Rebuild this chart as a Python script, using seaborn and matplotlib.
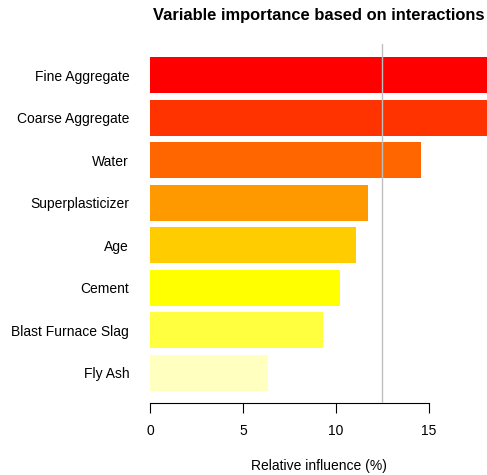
import pandas as pd
import matplotlib
matplotlib.use("Agg")
import matplotlib.pyplot as plt
import seaborn as sns

# Data (relative influence, %)
variables = ["Fine Aggregate", "Coarse Aggregate", "Water", "Superplasticizer",
             "Age", "Cement", "Blast Furnace Slag", "Fly Ash"]
influence = [18.6, 18.2, 14.57, 11.7, 11.08, 10.2, 9.3, 6.34]
# R heat.colors(8)
bar_colors = ["#FF0000", "#FF3300", "#FF6600", "#FF9900",
              "#FFCC00", "#FFFF00", "#FFFF40", "#FFFFBF"]
x_ticks = [0, 5, 10, 15]
reference_line = 12.5

df = pd.DataFrame({"variable": variables, "influence": influence})

sns.set_style("white")
plt.rcParams["font.family"] = ["Liberation Sans", "DejaVu Sans"]
plt.rcParams["text.color"] = "black"
plt.rcParams["xtick.color"] = "black"
plt.rcParams["ytick.color"] = "black"
plt.rcParams["axes.labelcolor"] = "black"

fig = plt.figure(figsize=(4.87, 4.75), dpi=100)
ax = fig.add_axes([150 / 487, 72 / 475, 337 / 487, 359 / 475])

sns.barplot(data=df, x="influence", y="variable", hue="variable",
            order=variables, palette=dict(zip(variables, bar_colors)),
            saturation=1, legend=False, width=0.847, linewidth=0, ax=ax)

ax.axvline(reference_line, color="#BEBEBE", lw=1, zorder=5)

ax.set_xlim(0, 18.12)
ax.set_ylim(7.71, -0.74)
ax.set_xticks(x_ticks)
ax.set_xticklabels([str(t) for t in x_ticks], fontsize=10)
ax.tick_params(axis="x", length=7, width=0.8, color="black", pad=8, bottom=True)
ax.tick_params(axis="y", length=0, pad=15, labelsize=10)

for s in ["top", "right", "left"]:
    ax.spines[s].set_visible(False)
ax.spines["bottom"].set_bounds(0, 15)
ax.spines["bottom"].set_color("black")
ax.spines["bottom"].set_linewidth(0.8)

ax.set_xlabel("Relative influence (%)", fontsize=10, labelpad=15)
ax.set_ylabel("")
ax.set_title("Variable importance based on interactions",
             fontsize=11.9, fontweight="bold", pad=17)

fig.savefig("out.png", dpi=100)
